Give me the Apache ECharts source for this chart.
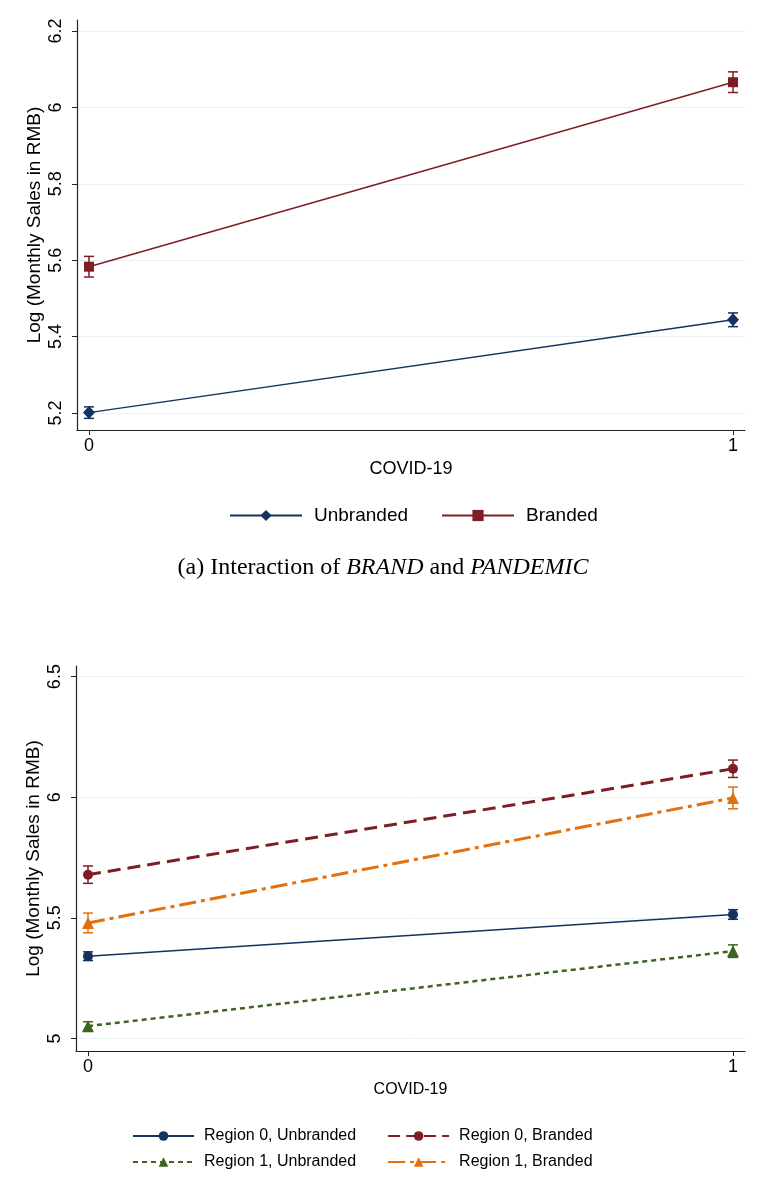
<!DOCTYPE html>
<html>
<head>
<meta charset="utf-8">
<script src="https://cdn.jsdelivr.net/npm/echarts@6/dist/echarts.min.js"></script>
<style>
  html, body { margin: 0; padding: 0; background: #fff; }
  #chart { width: 766px; height: 1186px; }
</style>
</head>
<body>
<div id="chart"></div>
<script>
// x values (COVID-19 dummy)
const covid = [0, 1];
const covidTicks = [0, 1];

// panel (a): BRAND x PANDEMIC
const topYTicks = [5.2, 5.4, 5.6, 5.8, 6, 6.2];
const unbranded = [5.201, 5.444];
const unbrandedCi = [0.015, 0.018];
const branded = [5.583, 6.066];
const brandedCi = [0.027, 0.027];

// panel (b): region x brand x pandemic
const bottomYTicks = [5, 5.5, 6, 6.5];
const r0Unbranded = [5.341, 5.514];
const r0UnbrandedCi = [0.018, 0.02];
const r0Branded = [5.679, 6.118];
const r0BrandedCi = [0.036, 0.036];
const r1Unbranded = [5.051, 5.362];
const r1UnbrandedCi = [0.018, 0.026];
const r1Branded = [5.479, 5.997];
const r1BrandedCi = [0.041, 0.045];

const FONT = 'Liberation Sans';
const NAVY = '#14325e';
const MAROON = '#7e1e24';
const GREEN = '#3f6420';
const ORANGE = '#e2700f';
const GRID_COLOR = '#eaf2f6';

const chart = echarts.init(document.getElementById('chart'));

// 误差线 (custom series)
function errorBars(values, halfWidths, color, idx) {
  return {
    type: 'custom',
    xAxisIndex: idx,
    yAxisIndex: idx,
    silent: true,
    z: 1,
    data: covid.map((x, i) => [x, values[i] - halfWidths[i], values[i] + halfWidths[i]]),
    encode: { x: 0, y: [1, 2] },
    renderItem: (params, api) => {
      const lo = api.coord([api.value(0), api.value(1)]);
      const hi = api.coord([api.value(0), api.value(2)]);
      const cap = 5;
      const style = { stroke: color, lineWidth: 1.5 };
      return {
        type: 'group',
        children: [
          { type: 'line', shape: { x1: lo[0], y1: lo[1], x2: hi[0], y2: hi[1] }, style },
          { type: 'line', shape: { x1: lo[0] - cap, y1: lo[1], x2: lo[0] + cap, y2: lo[1] }, style },
          { type: 'line', shape: { x1: hi[0] - cap, y1: hi[1], x2: hi[0] + cap, y2: hi[1] }, style }
        ]
      };
    }
  };
}

function lineSeries(name, values, color, idx, symbol, symbolSize, lineType, width) {
  return {
    name,
    type: 'line',
    xAxisIndex: idx,
    yAxisIndex: idx,
    z: 3,
    data: covid.map((x, i) => [x, values[i]]),
    symbol,
    symbolSize,
    showSymbol: true,
    animation: false,
    itemStyle: { color, borderWidth: 0 },
    lineStyle: { color, width, type: lineType }
  };
}

function xAxisOf(idx, nameGap, nameSize) {
  return {
    type: 'value',
    gridIndex: idx,
    min: -0.0186,
    max: 1.0186,
    name: 'COVID-19',
    nameLocation: 'middle',
    nameGap,
    nameMoveOverlap: false,
    nameTextStyle: { fontFamily: FONT, fontSize: nameSize, color: '#000' },
    axisLine: { onZero: false, lineStyle: { color: '#222', width: 1.2 } },
    axisTick: { customValues: covidTicks, length: 5, lineStyle: { color: '#222' } },
    axisLabel: { customValues: covidTicks, fontFamily: FONT, fontSize: 18, color: '#000', margin: 7 },
    splitLine: { show: false }
  };
}

function yAxisOf(idx, min, max, ticks) {
  return {
    type: 'value',
    gridIndex: idx,
    min,
    max,
    name: 'Log (Monthly Sales in RMB)',
    nameLocation: 'middle',
    nameGap: 33,
    nameMoveOverlap: false,
    nameTextStyle: { fontFamily: FONT, fontSize: 19, color: '#000' },
    axisLine: { show: true, onZero: false, lineStyle: { color: '#222', width: 1.2 } },
    axisTick: { show: true, customValues: ticks, length: 5, lineStyle: { color: '#222' } },
    axisLabel: { customValues: ticks, rotate: 90, fontFamily: FONT, fontSize: 18, color: '#000', margin: 12 },
    splitLine: { show: true, lineStyle: { color: GRID_COLOR, width: 1 } }
  };
}

const option = {
  backgroundColor: '#fff',
  animation: false,
  grid: [
    { left: 77, right: 21, top: 20, height: 410 },
    { left: 76, right: 21, top: 666, height: 385 }
  ],
  xAxis: [xAxisOf(0, 30, 18), xAxisOf(1, 31, 16)],
  yAxis: [yAxisOf(0, 5.1555, 6.2288, topYTicks), yAxisOf(1, 4.948, 6.544, bottomYTicks)],
  legend: [
    {
      data: ['Unbranded', 'Branded'],
      left: 224, top: 501,
      itemWidth: 72, itemHeight: 14, itemGap: 33,
      textStyle: { fontFamily: FONT, fontSize: 19, color: '#000', padding: [0, 0, 0, 7] },
      selectedMode: false
    },
    {
      data: ['Region 0, Unbranded', { name: 'Region 0, Branded', lineStyle: { type: [12, 6] } }],
      left: 127, top: 1123,
      itemWidth: 61, itemHeight: 12, itemGap: 31,
      textStyle: { fontFamily: FONT, fontSize: 16, color: '#000', padding: [0, 0, 0, 5] },
      selectedMode: false
    },
    {
      data: ['Region 1, Unbranded', 'Region 1, Branded'],
      left: 127, top: 1149,
      itemWidth: 61, itemHeight: 12, itemGap: 31,
      textStyle: { fontFamily: FONT, fontSize: 16, color: '#000', padding: [0, 0, 0, 5] },
      selectedMode: false
    }
  ],
  graphic: [
    {
      type: 'text',
      left: 'center',
      top: 556,
      style: {
        text: '(a) Interaction of {i|BRAND} and {i|PANDEMIC}',
        fontFamily: 'Liberation Serif',
        fontSize: 24,
        fill: '#000',
        rich: { i: { fontStyle: 'italic', fontFamily: 'Liberation Serif', fontSize: 24 } }
      }
    }
  ],
  series: [
    errorBars(unbranded, unbrandedCi, NAVY, 0),
    errorBars(branded, brandedCi, MAROON, 0),
    lineSeries('Unbranded', unbranded, NAVY, 0, 'diamond', [12, 13], 'solid', 1.5),
    lineSeries('Branded', branded, MAROON, 0, 'rect', 10, 'solid', 1.5),

    errorBars(r0Unbranded, r0UnbrandedCi, NAVY, 1),
    errorBars(r0Branded, r0BrandedCi, MAROON, 1),
    errorBars(r1Unbranded, r1UnbrandedCi, GREEN, 1),
    errorBars(r1Branded, r1BrandedCi, ORANGE, 1),
    lineSeries('Region 0, Unbranded', r0Unbranded, NAVY, 1, 'circle', 10, 'solid', 1.5),
    lineSeries('Region 0, Branded', r0Branded, MAROON, 1, 'circle', 10, [13, 7], 3),
    lineSeries('Region 1, Unbranded', r1Unbranded, GREEN, 1, 'triangle', 12, [5, 4], 2.5),
    lineSeries('Region 1, Branded', r1Branded, ORANGE, 1, 'triangle', 12, [17, 5, 4, 5], 3)
  ]
};

chart.setOption(option);
</script>
</body>
</html>
